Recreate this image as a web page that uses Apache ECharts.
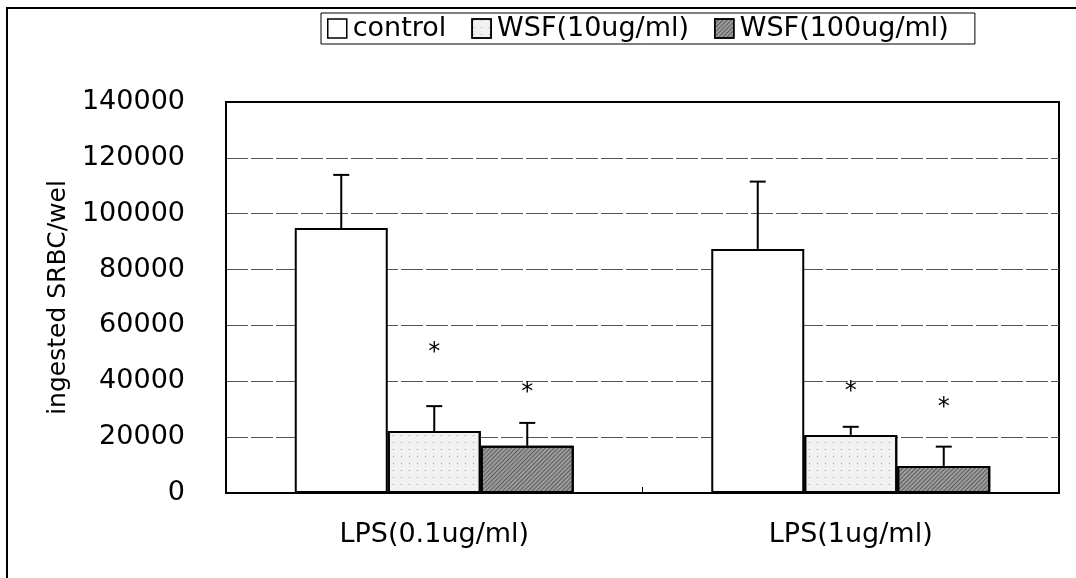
<!DOCTYPE html>
<html lang="en">
<head>
    <meta charset="UTF-8">
    <title>ingested SRBC/wel</title>
    <style>
        html, body { margin: 0; padding: 0; background: #fff; }
    </style>
</head>
<body>
    <div id="chart" style="width:1076px; height:578px"></div>

    <script src="https://cdn.jsdelivr.net/npm/echarts@6/dist/echarts.min.js"></script>
    <script>
        // 数据
        const categories = ['LPS(0.1ug/ml)', 'LPS(1ug/ml)'];
        const seriesNames = ['control', 'WSF(10ug/ml)', 'WSF(100ug/ml)'];
        const controlVals = [94900, 87400];
        const wsf10Vals = [22200, 20800];
        const wsf100Vals = [16900, 9700];
        // 误差线顶端
        const controlErr = [113900, 111500];
        const wsf10Err = [31100, 23700];
        const wsf100Err = [25100, 16600];
        // 星号位置 [类别, 系列, 值]
        const stars = [[0, 1, 50200], [0, 2, 35800], [1, 1, 36200], [1, 2, 30400]];
        const yTicks = [0, 20000, 40000, 60000, 80000, 100000, 120000, 140000];

        const chart = echarts.init(document.getElementById('chart'));
        const barW = 93;
        const font = '"DejaVu Sans", sans-serif';

        const values = [controlVals, wsf10Vals, wsf100Vals];
        const errs = [controlErr, wsf10Err, wsf100Err];

        const barStyles = [
            { color: '#ffffff', borderColor: '#000', borderWidth: 2 },
            {
                color: '#f1f1f1', borderColor: '#000', borderWidth: 2,
                decal: { symbol: 'circle', symbolSize: 0.5, dashArrayX: [[3, 5]], dashArrayY: [3, 4], color: 'rgba(0,0,0,0.25)' }
            },
            {
                color: '#9c9c9c', borderColor: '#000', borderWidth: 2,
                decal: { symbol: 'rect', dashArrayX: [1, 0], dashArrayY: [1, 2], rotation: -Math.PI / 4, color: 'rgba(40,40,40,0.55)' }
            }
        ];

        const barSeries = seriesNames.map((name, k) => ({
            name: name,
            type: 'bar',
            barWidth: barW,
            barGap: '0%',
            itemStyle: barStyles[k],
            emphasis: { disabled: true },
            data: values[k]
        }));

        // 误差线
        const errData = [];
        for (let k = 0; k < 3; k++) {
            for (let i = 0; i < categories.length; i++) {
                errData.push([i, values[k][i], errs[k][i], k]);
            }
        }
        const errSeries = {
            type: 'custom',
            silent: true,
            z: 5,
            data: errData,
            encode: { x: 0, y: 2 },
            renderItem: (params, api) => {
                const k = api.value(3);
                const lo = api.coord([api.value(0), api.value(1)]);
                const hi = api.coord([api.value(0), api.value(2)]);
                const x = lo[0] + (k - 1) * barW;
                const st = { stroke: '#000', lineWidth: 2 };
                return {
                    type: 'group',
                    children: [
                        { type: 'line', shape: { x1: x, y1: lo[1], x2: x, y2: hi[1] }, style: st },
                        { type: 'line', shape: { x1: x - 8, y1: hi[1], x2: x + 8, y2: hi[1] }, style: st }
                    ]
                };
            }
        };

        // 星号
        const starSeries = {
            type: 'custom',
            silent: true,
            z: 6,
            data: stars,
            encode: { x: 0, y: 2 },
            renderItem: (params, api) => {
                const p = api.coord([api.value(0), api.value(2)]);
                return {
                    type: 'text',
                    x: p[0] + (api.value(1) - 1) * barW,
                    y: p[1],
                    style: { text: '*', fill: '#000', font: '24px ' + font, align: 'center', verticalAlign: 'middle' }
                };
            }
        };

        chart.setOption({
            animation: false,
            backgroundColor: '#fff',
            graphic: [{
                type: 'rect',
                shape: { x: 7, y: 8, width: 1100, height: 620 },
                style: { fill: 'none', stroke: '#000', lineWidth: 2 },
                silent: true
            }],
            legend: {
                data: seriesNames,
                left: 321,
                top: 13,
                icon: 'rect',
                itemWidth: 19,
                itemHeight: 19,
                itemGap: 25,
                padding: [2, 26, 2, 6],
                borderColor: '#000',
                borderWidth: 1,
                itemStyle: { borderColor: '#000', borderWidth: 1.5 },
                textStyle: { fontFamily: font, fontSize: 27, color: '#000', padding: [0, 0, 0, 1] }
            },
            grid: {
                left: 226,
                right: 17,
                top: 102,
                bottom: 85,
                show: true,
                borderColor: '#000',
                borderWidth: 2
            },
            xAxis: {
                type: 'category',
                data: categories,
                axisLine: { lineStyle: { color: '#000', width: 2 } },
                axisTick: { show: true, inside: true, length: 6, lineStyle: { color: '#000' } },
                axisLabel: { fontFamily: font, fontSize: 27, color: '#000', margin: 28 }
            },
            yAxis: {
                type: 'value',
                min: yTicks[0],
                max: yTicks[yTicks.length - 1],
                interval: 20000,
                name: 'ingested SRBC/wel',
                nameLocation: 'middle',
                nameGap: 150,
                nameTextStyle: { fontFamily: font, fontSize: 25, color: '#000' },
                axisLine: { show: true, lineStyle: { color: '#000', width: 2 } },
                axisTick: { show: false },
                axisLabel: { fontFamily: font, fontSize: 27, color: '#000', margin: 41, formatter: (v) => String(v) },
                splitLine: { showMinLine: false, showMaxLine: false, lineStyle: { color: '#555', width: 1, type: [22, 3] } }
            },
            series: [...barSeries, errSeries, starSeries]
        });
    </script>
</body>
</html>
